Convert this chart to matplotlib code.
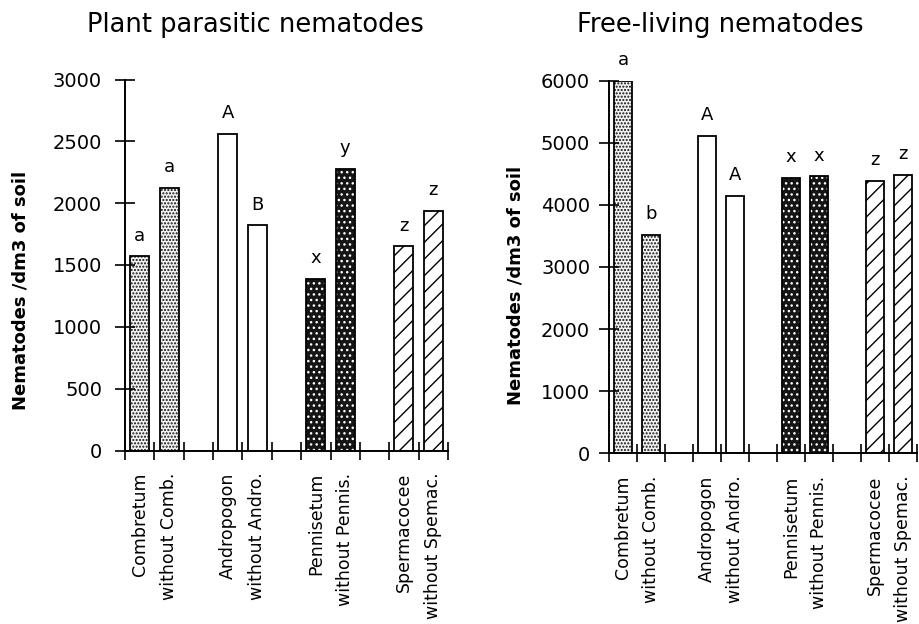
import numpy as np
import matplotlib
matplotlib.use("Agg")
import matplotlib.pyplot as plt

plt.rcParams['font.family'] = 'DejaVu Sans'
plt.rcParams['hatch.linewidth'] = 1.0

labels = ['Combretum', 'without Comb.', 'Andropogon', 'without Andro.',
          'Pennisetum', 'without Pennis.', 'Spermacocee', 'without Spemac.']
positions = [0, 1, 3, 4, 6, 7, 9, 10]
patterns = ['light', 'light', 'plain', 'plain', 'dark', 'dark', 'hatch', 'hatch']

parasitic = [1570, 2120, 2560, 1820, 1390, 2280, 1650, 1940]
parasitic_letters = ['a', 'a', 'A', 'B', 'x', 'y', 'z', 'z']

free = [6000, 3510, 5110, 4150, 4440, 4460, 4390, 4480]
free_letters = ['a', 'b', 'A', 'A', 'x', 'x', 'z', 'z']

W = 0.65


def draw_panel(ax, values, letters, ymax, step, ypad):
    for x, v, p in zip(positions, values, patterns):
        if p == 'light':
            ax.bar(x, v, W, color='#f2f2f2', edgecolor='#111111', hatch='.....', linewidth=0)
        elif p == 'dark':
            ax.bar(x, v, W, color='#151515', edgecolor='white', hatch='...', linewidth=0)
        elif p == 'hatch':
            ax.bar(x, v, W, color='white', edgecolor='black', hatch='//', linewidth=0)
        ax.bar(x, v, W, color='none', edgecolor='black', linewidth=1.3)
    for x, v, t in zip(positions, values, letters):
        ax.annotate(t, (x, v), xytext=(0, 15), textcoords='offset points',
                    ha='center', va='center', fontsize=13)
    ax.set_xlim(-0.5, 10.5)
    ax.set_ylim(0, ymax)
    ax.set_yticks(np.arange(0, ymax + 1, step))
    ax.set_xticks(np.arange(-0.5, 11, 1))
    ax.set_xticklabels([])
    ax.set_xticks(positions, minor=True)
    ax.set_xticklabels(labels, minor=True, rotation=90, fontsize=12.5)
    ax.tick_params(axis='x', which='major', direction='inout', length=13, width=1.2)
    ax.tick_params(axis='x', which='minor', length=0, pad=16)
    ax.tick_params(axis='y', direction='inout', length=15, width=1.2, labelsize=14, pad=ypad)
    for s in ['top', 'right']:
        ax.spines[s].set_visible(False)
    for s in ['left', 'bottom']:
        ax.spines[s].set_linewidth(1.4)


fig = plt.figure(figsize=(9.19, 6.24), dpi=100)
ax1 = fig.add_axes([125 / 919, 173.5 / 624, 323 / 919, 371 / 624])
ax2 = fig.add_axes([609 / 919, 170.7 / 624, 308 / 919, 372.6 / 624])

draw_panel(ax1, parasitic, parasitic_letters, 3000, 500, 9)
draw_panel(ax2, free, free_letters, 6000, 1000, 6)

fig.text(255 / 919, 1 - 25 / 624, 'Plant parasitic nematodes', ha='center', va='center', fontsize=18.5)
fig.text(720 / 919, 1 - 25 / 624, 'Free-living nematodes', ha='center', va='center', fontsize=18.5)
fig.text(21 / 919, 1 - 290 / 624, 'Nematodes /dm3 of soil', rotation=90, ha='center', va='center',
         fontsize=13, fontweight='bold')
fig.text(516 / 919, 1 - 285 / 624, 'Nematodes /dm3 of soil', rotation=90, ha='center', va='center',
         fontsize=13, fontweight='bold')

fig.savefig('out.png', dpi=100)
